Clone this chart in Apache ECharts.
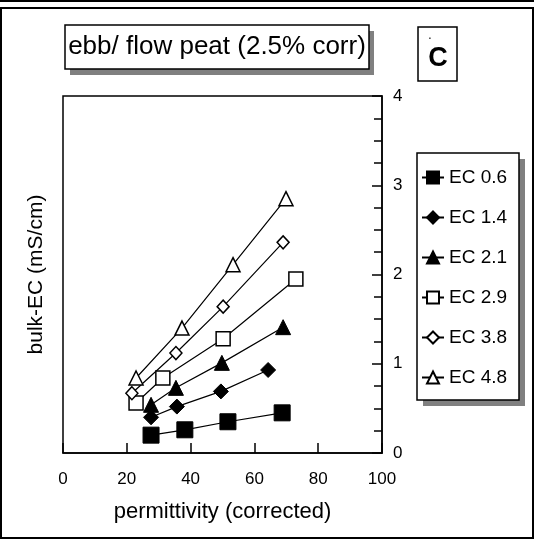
<!DOCTYPE html>
<html>
<head>
<meta charset="utf-8">
<script src="https://cdn.jsdelivr.net/npm/echarts@6/dist/echarts.min.js"></script>
<style>
  html, body { margin: 0; padding: 0; background: #fff; }
  #chart { width: 534px; height: 539px; }
</style>
</head>
<body>
<div id="chart"></div>
<script>
// permittivity (x) and bulk-EC (y), one pair of arrays per solution EC
const seriesNames = ['EC 0.6', 'EC 1.4', 'EC 2.1', 'EC 2.9', 'EC 3.8', 'EC 4.8']
const ec06x = [27.6, 38.2, 51.7, 68.7]
const ec06y = [0.20, 0.26, 0.35, 0.45]
const ec14x = [27.6, 35.7, 49.5, 64.3]
const ec14y = [0.40, 0.52, 0.69, 0.93]
const ec21x = [27.6, 35.4, 49.8, 69.0]
const ec21y = [0.54, 0.73, 1.01, 1.41]
const ec29x = [22.9, 31.3, 50.2, 73.0]
const ec29y = [0.56, 0.84, 1.28, 1.95]
const ec38x = [21.6, 35.4, 50.2, 69.0]
const ec38y = [0.67, 1.12, 1.64, 2.36]
const ec48x = [22.9, 37.3, 53.3, 69.9]
const ec48y = [0.84, 1.40, 2.11, 2.85]
const xTicks = [0, 20, 40, 60, 80, 100]
const yTicks = [0, 1, 2, 3, 4]

const FONT = '"Liberation Sans", Arial, Helvetica, sans-serif'
const chart = echarts.init(document.getElementById('chart'))

const pairs = (xs, ys) => xs.map((x, i) => [x, ys[i]])
const filled = { color: '#000', borderColor: '#000', borderWidth: 1 }
const open = { color: '#fff', borderColor: '#000', borderWidth: 1.5 }

const mk = (name, xs, ys, symbol, size, style) => ({
  name,
  type: 'line',
  data: pairs(xs, ys),
  symbol,
  symbolSize: size,
  showAllSymbol: true,
  lineStyle: { color: '#000', width: 1.2 },
  itemStyle: style,
  emphasis: { disabled: true },
  animation: false,
})

const option = {
  animation: false,
  grid: {
    left: 63, right: 152, top: 96, bottom: 86,
    show: true, borderColor: '#000', borderWidth: 1.5, backgroundColor: 'transparent',
    outerBoundsMode: 'none',
  },
  xAxis: {
    type: 'value',
    min: xTicks[0],
    max: xTicks[xTicks.length - 1],
    interval: 20,
    name: 'permittivity (corrected)',
    nameLocation: 'middle',
    nameGap: 48,
    nameTextStyle: { color: '#000', fontSize: 22, fontFamily: FONT },
    axisLine: { onZero: false, lineStyle: { color: '#000', width: 1.5 } },
    axisTick: { inside: true, length: 10, lineStyle: { color: '#000', width: 1.5 } },
    axisLabel: { color: '#000', fontSize: 17, fontFamily: FONT, margin: 18 },
    splitLine: { show: false },
  },
  yAxis: [
    {
      type: 'value',
      position: 'right',
      min: yTicks[0],
      max: yTicks[yTicks.length - 1],
      interval: 1,
      axisLine: { show: true, onZero: false, lineStyle: { color: '#000', width: 1.5 } },
      axisTick: { show: true, inside: true, length: 10, lineStyle: { color: '#000', width: 1.5 } },
      minorTick: { show: true, splitNumber: 4, length: 8, lineStyle: { color: '#000', width: 1.5 } },
      axisLabel: { color: '#000', fontSize: 17, fontFamily: FONT, margin: 11 },
      splitLine: { show: false },
    },
    {
      type: 'value',
      position: 'left',
      min: 0,
      max: 4,
      interval: 1,
      name: 'bulk-EC (mS/cm)',
      nameLocation: 'middle',
      nameGap: 16,
      nameTextStyle: { color: '#000', fontSize: 21, fontFamily: FONT },
      axisLine: { show: false, onZero: false },
      axisTick: { show: false },
      minorTick: { show: false },
      axisLabel: { show: false },
      splitLine: { show: false },
    },
  ],
  legend: {
    orient: 'vertical',
    left: 421,
    top: 168,
    padding: 0,
    itemWidth: 22,
    itemHeight: 15,
    itemGap: 21,
    selectedMode: false,
    textStyle: { color: '#000', fontSize: 19, fontFamily: FONT },
    data: seriesNames,
  },
  graphic: [
    // outer frame
    { type: 'rect', shape: { x: 0, y: 0, width: 534, height: 2 }, style: { fill: '#000' }, silent: true },
    { type: 'rect', shape: { x: 1, y: 8, width: 532, height: 530 }, style: { fill: 'none', stroke: '#000', lineWidth: 2 }, silent: true },
    // title box with shadow
    { type: 'rect', shape: { x: 70, y: 31, width: 304, height: 44 }, style: { fill: '#808080' }, silent: true },
    { type: 'rect', shape: { x: 65, y: 25, width: 304, height: 44 }, style: { fill: '#fff', stroke: '#000', lineWidth: 1.5 }, silent: true },
    {
      type: 'text', x: 217, y: 47, silent: true,
      style: { text: 'ebb/ flow peat (2.5% corr)', fill: '#000', font: '26px ' + FONT, align: 'center', verticalAlign: 'middle' },
    },
    // panel letter
    { type: 'rect', shape: { x: 418, y: 27, width: 39, height: 54 }, style: { fill: '#fff', stroke: '#000', lineWidth: 1.5 }, silent: true },
    {
      type: 'text', x: 438, y: 59, silent: true,
      style: { text: 'C', fill: '#000', font: 'bold 27px ' + FONT, align: 'center', verticalAlign: 'middle' },
    },
    {
      type: 'text', x: 430, y: 36, silent: true,
      style: { text: '.', fill: '#000', font: '12px ' + FONT, align: 'center', verticalAlign: 'middle' },
    },
    // legend box with shadow
    { type: 'rect', shape: { x: 423, y: 159, width: 102, height: 247 }, style: { fill: '#808080' }, silent: true },
    { type: 'rect', shape: { x: 417, y: 153, width: 102, height: 247 }, style: { fill: '#fff', stroke: '#000', lineWidth: 1.5 }, silent: true },
  ],
  series: [
    mk(seriesNames[0], ec06x, ec06y, 'rect', 16, filled),
    mk(seriesNames[1], ec14x, ec14y, 'diamond', [15, 15], filled),
    mk(seriesNames[2], ec21x, ec21y, 'triangle', 15, filled),
    mk(seriesNames[3], ec29x, ec29y, 'rect', 14, open),
    mk(seriesNames[4], ec38x, ec38y, 'diamond', [12, 13], open),
    mk(seriesNames[5], ec48x, ec48y, 'triangle', 14, open),
  ],
}

chart.setOption(option)
</script>
</body>
</html>
